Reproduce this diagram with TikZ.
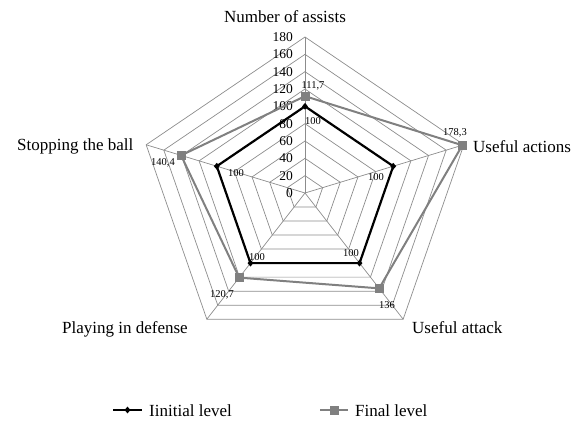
\documentclass[tikz,border=0pt]{standalone}
\usepackage{fontspec}
\setmainfont{Liberation Serif}
\tikzset{
  gridline/.style={draw=black!45, line width=0.7pt},
  initline/.style={draw=black, line width=2.2pt, line join=miter},
  finline/.style={draw=black!50, line width=2pt, line join=miter},
  initmark/.style={diamond, fill=black, inner sep=0pt, minimum width=6pt, minimum height=7pt},
  finmark/.style={rectangle, fill=black!50, inner sep=0pt, minimum size=9pt},
  ticklbl/.style={font=\fontsize{13.5}{15}\selectfont, anchor=east, inner sep=0pt},
  datalbl/.style={font=\fontsize{10.5}{12}\selectfont, inner sep=0pt},
  axislbl/.style={font=\fontsize{17}{20}\selectfont, inner sep=0pt},
  legendlbl/.style={font=\fontsize{17}{20}\selectfont, inner sep=0pt, anchor=base west},
}
\usetikzlibrary{shapes.geometric}
\begin{document}
\begin{tikzpicture}[x=1pt,y=1pt]
\useasboundingbox (0,0) rectangle (584,421);
\begin{scope}[shift={(305,228)}, x=0.9278pt, y=0.8667pt]
  % grid
  \foreach \r in {20,40,...,180}
    \draw[gridline] (90:\r) -- (18:\r) -- (-54:\r) -- (-126:\r) -- (162:\r) -- cycle;
  \coordinate (c) at (0,0);
  \foreach \a/\n in {90/a1,18/a2,-54/a3,-126/a4,162/a5} {
    \coordinate (\n) at (\a:180);
    \draw[gridline] (c) -- (\n);
  }
  % tick labels
  \foreach \v in {0,20,...,180}
    \node[ticklbl] (t\v) at ([xshift=-12pt]0,\v) {\v};
  % data points
  \coordinate (i1) at (90:100);
  \coordinate (i2) at (18:100);
  \coordinate (i3) at (-54:100);
  \coordinate (i4) at (-126:100);
  \coordinate (i5) at (162:100);
  \coordinate (f1) at (90:111.7);
  \coordinate (f2) at (18:178.3);
  \coordinate (f3) at (-54:136);
  \coordinate (f4) at (-126:120.7);
  \coordinate (f5) at (162:140.4);
\end{scope}
% series
\draw[finline] (f1) -- (f2) -- (f3) -- (f4) -- (f5) -- cycle;
\draw[initline] (i1) -- (i2) -- (i3) -- (i4) -- (i5) -- cycle;
\foreach \p in {f1,f2,f3,f4,f5} \node[finmark] (m\p) at (\p) {};
\foreach \p in {i1,i2,i3,i4,i5} \node[initmark] (m\p) at (\p) {};
% data labels
\node[datalbl] (li1) at (313,300) {100};
\node[datalbl] (li2) at (376,244) {100};
\node[datalbl] (li3) at (351,168) {100};
\node[datalbl] (li4) at (257,164) {100};
\node[datalbl] (li5) at (236,248) {100};
\node[datalbl] (lf1) at (313,335) {111,7};
\node[datalbl] (lf2) at (455,288) {178,3};
\node[datalbl] (lf3) at (387,116) {136};
\node[datalbl] (lf4) at (222,126) {120,7};
\node[datalbl] (lf5) at (163,258) {140,4};
% axis labels
\node[axislbl, anchor=base] (n1) at (285,398.5) {Number of assists};
\node[axislbl, anchor=base west] (n2) at (473,268) {Useful actions};
\node[axislbl, anchor=base west] (n3) at (412,88) {Useful attack};
\node[axislbl, anchor=base west] (n4) at (62,88) {Playing in defense};
\node[axislbl, anchor=base west] (n5) at (17,270) {Stopping the ball};
% legend
\coordinate (la) at (113,11);
\coordinate (lb) at (142,11);
\draw[black, line width=2pt] (la) -- (lb);
\node[initmark] (lgi) at (127.5,11) {};
\node[legendlbl] (lti) at (149,5) {Iinitial level};
\coordinate (lc) at (320,11);
\coordinate (ld) at (348,11);
\draw[black!50, line width=2pt] (lc) -- (ld);
\node[finmark] (lgf) at (334,11) {};
\node[legendlbl] (ltf) at (355,5) {Final level};
\end{tikzpicture}
\end{document}
